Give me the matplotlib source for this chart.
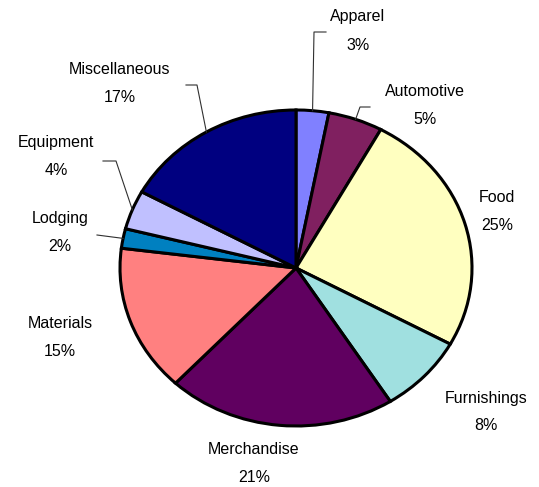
import numpy as np
import matplotlib.pyplot as plt

plt.rcParams['font.family'] = ['Liberation Sans', 'DejaVu Sans']

# data
categories = ['Apparel', 'Automotive', 'Food', 'Furnishings', 'Merchandise',
              'Materials', 'Lodging', 'Equipment', 'Miscellaneous']
shares = [3, 5, 25, 8, 21, 15, 2, 4, 17]
colors = ['#8080FF', '#802060', '#FFFFC0', '#A0E0E0', '#600060',
          '#FF8080', '#0080C0', '#C0C0FF', '#000080']

# layout (pixels)
W, H = 539, 487
cx, cy, rx, ry = 296, 268, 176, 158
label_pos = {
    'Apparel': (358, 17), 'Automotive': (425, 92), 'Food': (497, 197),
    'Furnishings': (486, 398), 'Merchandise': (254, 450), 'Materials': (60, 323),
    'Lodging': (60, 218), 'Equipment': (56, 143), 'Miscellaneous': (120, 70),
}
leader_elbow = {
    'Apparel': [(314, 32), (326, 32)],
    'Automotive': [(360, 107), (370, 107)],
    'Miscellaneous': [(197, 85), (186, 85)],
    'Equipment': [(116, 161), (103, 161)],
    'Lodging': [(97, 235)],
}

fig = plt.figure(figsize=(W / 100, H / 100), dpi=100)
ax = fig.add_axes([(cx - rx) / W, (H - cy - ry) / H, 2 * rx / W, 2 * ry / H])
wedges, _ = ax.pie(shares, colors=colors, startangle=90, counterclock=False,
                   radius=1, wedgeprops=dict(edgecolor='black', linewidth=2.2))
for w in wedges:
    w.set_clip_on(False)
ax.set_aspect('auto')
ax.set_xlim(-1, 1)
ax.set_ylim(-1, 1)
ax.axis('off')


def to_data(p):
    return ((p[0] - cx) / rx, (cy - p[1]) / ry)


total = float(sum(shares))
for w, name, v in zip(wedges, categories, shares):
    px, py = label_pos[name]
    fig.text(px / W, 1 - py / H, name, ha='center', va='center', fontsize=11.5)
    fig.text(px / W, 1 - (py + 28) / H, '%d%%' % round(100 * v / total),
             ha='center', va='center', fontsize=11.5)
    if name in leader_elbow:
        ang = np.deg2rad((w.theta1 + w.theta2) / 2)
        pts = [(np.cos(ang), np.sin(ang))] + [to_data(p) for p in leader_elbow[name]]
        xs, ys = zip(*pts)
        ax.plot(xs, ys, color='#303030', lw=0.8, clip_on=False)

fig.savefig('out.png', dpi=100)
